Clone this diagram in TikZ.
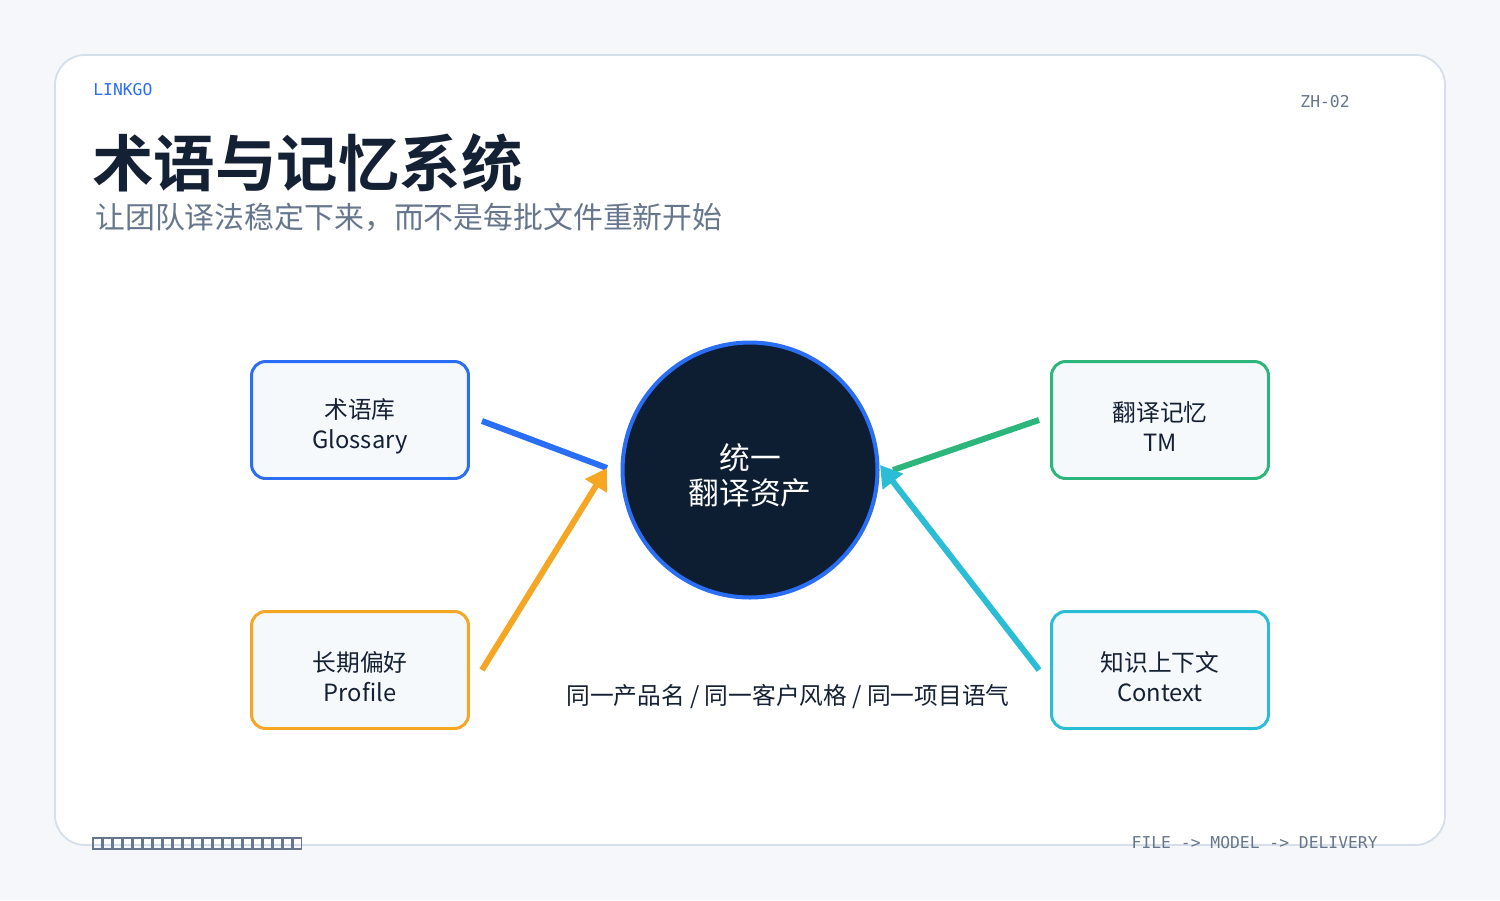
\documentclass[tikz,border=0pt]{standalone}
\usepackage{fontspec}
\setmainfont{Noto Sans CJK SC}
\newfontfamily\cjkbold{Noto Sans CJK SC}[BoldFont={* Bold}]
\newfontfamily\monofont{DejaVu Sans Mono}
\usetikzlibrary{arrows.meta}
\definecolor{bgpage}{HTML}{F5F7FA}
\definecolor{cardline}{HTML}{D5DEE9}
\definecolor{inkdark}{HTML}{142033}
\definecolor{inkgray}{HTML}{66768C}
\definecolor{hubfill}{HTML}{0D1E33}
\definecolor{cblue}{HTML}{2A6EF5}
\definecolor{corange}{HTML}{F5A623}
\definecolor{cgreen}{HTML}{2DB67C}
\definecolor{ccyan}{HTML}{2BBCD6}
\definecolor{boxfill}{HTML}{F6F9FC}
\tikzset{
  srcbox/.style={draw=#1,line width=1.7pt,fill=boxfill,rounded corners=8pt,
    minimum width=4.34cm,minimum height=2.34cm},
  boxtext/.style={align=center,yshift=-0.13cm,font=\fontsize{13.5}{17}\selectfont,text=inkdark},
  link/.style={draw=#1,line width=3.4pt},
  linkarrow/.style={link=#1,-{Triangle[length=12pt,width=14pt]}},
  mono/.style={font=\monofont\fontsize{9.3}{10}\selectfont}
}
\begin{document}
\begin{tikzpicture}[x=0.02cm,y=-0.02cm]
\fill[bgpage] (0,0) rectangle (1500,900);
\draw[cardline,fill=white,line width=1pt,rounded corners=17pt] (55,55) rectangle (1445,845);
% header
\node[mono,text=cblue,anchor=west,inner sep=0] (brand) at (93,90) {LINKGO};
\node[mono,text=inkgray,anchor=east,inner sep=0] (code) at (1350,102) {ZH-02};
\node[anchor=west,inner sep=0,text=inkdark,font=\cjkbold\bfseries\fontsize{35}{40}\selectfont] (title) at (92,163) {术语与记忆系统};
\node[anchor=west,inner sep=0,text=inkgray,font=\fontsize{17}{20}\selectfont] (subtitle) at (95,217) {让团队译法稳定下来，而不是每批文件重新开始};
% hub and sources
\node[circle,draw=cblue,line width=2.3pt,fill=hubfill,minimum size=5.1cm] (hub) at (750,470) {};
\node[align=center,text=white,font=\fontsize{17.5}{20}\selectfont,yshift=-0.11cm] (hubtext) at (hub) {统一\\翻译资产};
\node[srcbox=cblue] (glossary) at (360,420) {};
\node[srcbox=corange] (profile) at (360,670) {};
\node[srcbox=cgreen] (tm) at (1160,420) {};
\node[srcbox=ccyan] (context) at (1160,670) {};
\node[boxtext] at (glossary) {术语库\\Glossary};
\node[boxtext] at (profile) {长期偏好\\Profile};
\node[boxtext] at (tm) {翻译记忆\\TM};
\node[boxtext] at (context) {知识上下文\\Context};
\coordinate (inL) at (607,468);
\coordinate (inR) at (880,465);
% connectors
\draw[link=cblue] (glossary.east) ++(12,1) -- (inL);
\draw[linkarrow=corange] (profile.east) ++(12,0) -- (inL);
\draw[link=cgreen] (tm.west) ++(-11,0) -- (893,470);
\draw[linkarrow=ccyan] (context.west) ++(-11,0) -- (inR);
\node[text=inkdark,font=\fontsize{13.5}{16}\selectfont] (motto) at (788,697) {同一产品名 / 同一客户风格 / 同一项目语气};
% footer
\foreach \i in {0,...,20}
  \draw[inkgray,line width=0.6pt] (93+\i*10,838) rectangle ++(8.5,11);
\node[mono,text=inkgray,anchor=east,inner sep=0] (flow) at (1378,843) {FILE -> MODEL -> DELIVERY};
\end{tikzpicture}
\end{document}
